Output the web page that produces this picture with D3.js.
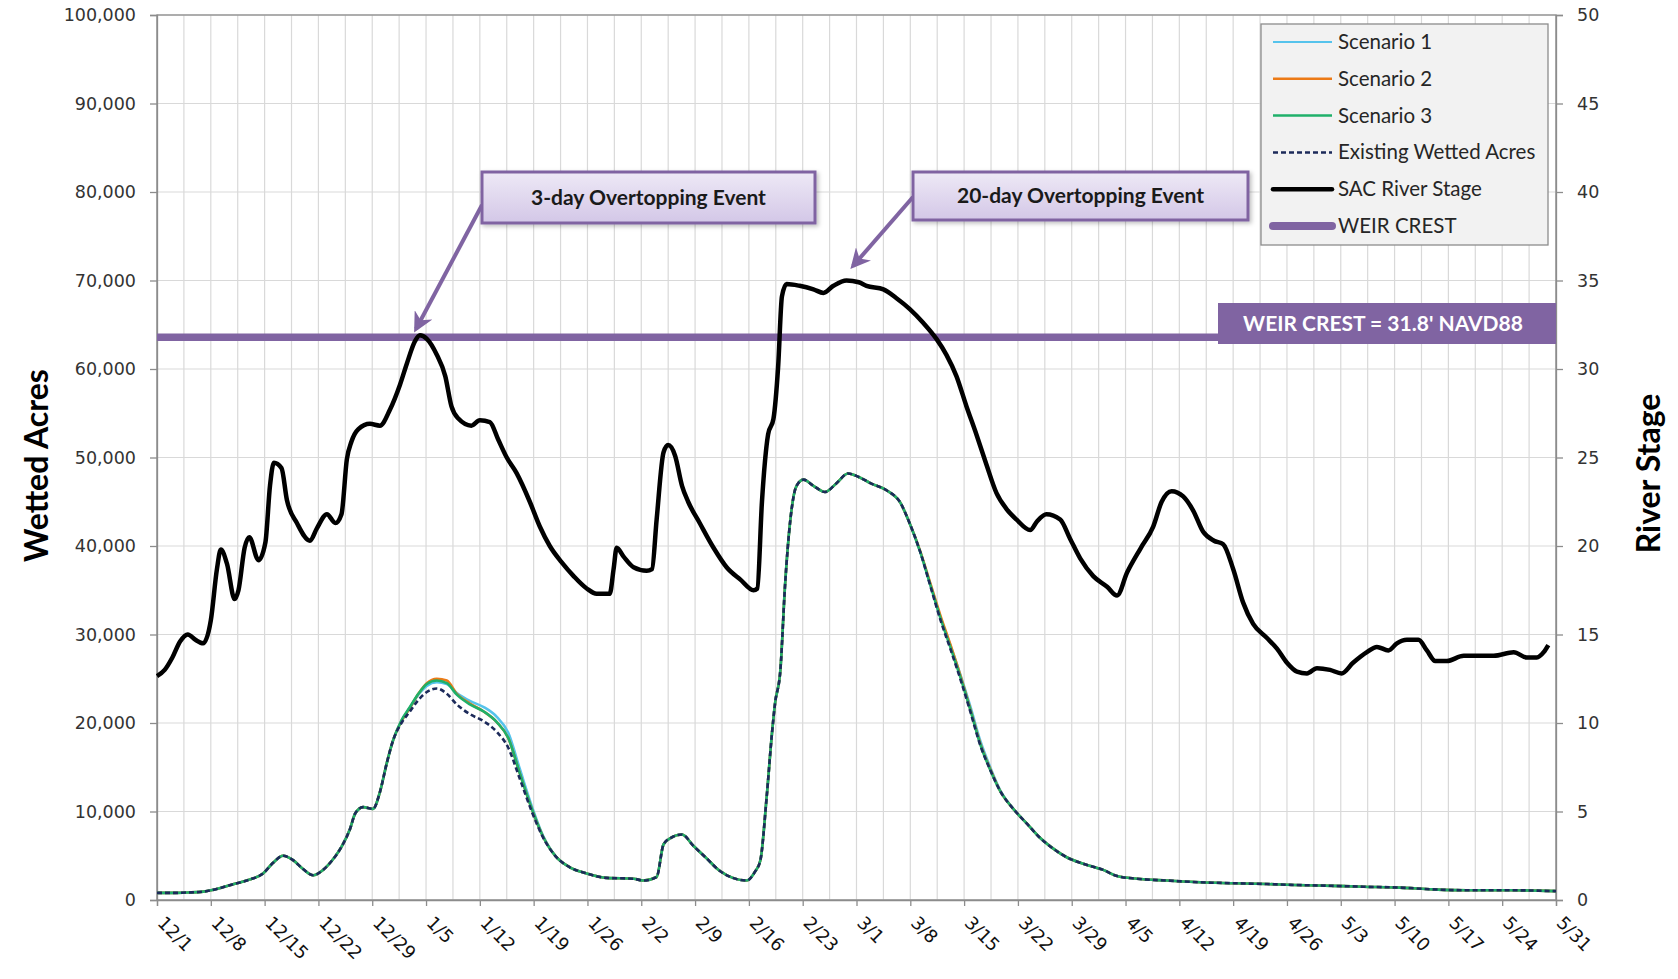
<!DOCTYPE html>
<html>
<head>
<meta charset="utf-8">
<script src="https://cdn.jsdelivr.net/npm/d3@7"></script>
<style>
  body { margin: 0; background: #fff; }
  svg { display: block; }
</style>
</head>
<body>
<div class="canvas"></div>
<script>
// ---- data (days counted from 12/1) ----
const xTickLabels = ["12/1","12/8","12/15","12/22","12/29","1/5","1/12","1/19","1/26","2/2","2/9","2/16","2/23",
  "3/1","3/8","3/15","3/22","3/29","4/5","4/12","4/19","4/26","5/3","5/10","5/17","5/24","5/31"];
const acresTicks = [0,10000,20000,30000,40000,50000,60000,70000,80000,90000,100000];
const stageTicks = [0,5,10,15,20,25,30,35,40,45,50];
const weirCrest = 31.8;

const stageDay = [0,1,2,3,4,5,6,7,7.8,8.3,9.1,10.1,10.6,11.4,12,13.2,14.1,14.7,15.2,16.2,16.9,18.2,19.9,20.8,22.1,23.2,24,
  24.7,25.3,26.2,27.7,29,30.3,31.6,32.5,33.6,34.2,35.1,36.4,37.5,38.3,39.2,40.9,42,43.3,44.4,45.5,46.8,48.5,49.8,
  51.1,52.6,54.2,55.9,57.2,58.9,59.4,59.8,60.7,62,63.7,64.4,65,65.9,66.5,67.4,68.3,69.1,70.6,72.4,74.1,75.9,77.6,
  78.1,78.7,79.5,80.2,80.8,81.3,81.9,83.6,85.4,86.7,88,89.7,91.3,92.3,94.5,96.2,97.9,99.7,101.4,102.7,104,105.3,
  106.6,107.9,109.2,110.5,111.8,113.6,114.5,115.7,117.5,118.8,120.1,121.8,123.6,124.9,126.2,128,129.6,130.7,132,
  133.5,134.8,136.1,137.5,138.7,140,141.3,142.6,144.4,145.7,147,148.3,149.6,150.9,152.6,154.1,155.6,157.4,158.7,
  160.2,161.3,162.6,164.1,165.2,166.3,167.8,170,171.7,173.9,176.5,178.2,179.5,180.4,181];
const stageVal = [12.65,13.0,13.7,14.6,15.0,14.7,14.5,15.8,18.7,19.8,19.0,17.0,17.5,19.9,20.5,19.2,20.2,23.4,24.7,24.4,22.6,21.3,20.3,21.0,21.8,21.3,21.8,
  24.9,25.9,26.6,26.9,26.8,27.7,29.1,30.3,31.6,31.9,31.7,30.8,29.6,27.9,27.2,26.8,27.1,27.0,26.0,25.0,24.1,22.5,21.1,
  20.0,19.1,18.3,17.6,17.3,17.3,18.7,19.9,19.4,18.8,18.6,18.7,21.5,25.3,25.7,25.1,23.4,22.5,21.3,19.9,18.8,18.1,17.5,
  17.6,22.5,26.3,27.2,30.1,34.1,34.8,34.7,34.5,34.3,34.7,35.0,34.9,34.7,34.5,34.0,33.4,32.6,31.7,30.8,29.6,27.9,
  26.3,24.6,23.0,22.1,21.5,20.9,21.4,21.8,21.5,20.4,19.3,18.3,17.7,17.2,18.5,19.9,21.1,22.5,23.1,
  22.8,22.0,20.8,20.3,20.1,18.7,16.8,15.6,14.8,14.2,13.4,12.9,12.8,13.1,13.0,12.8,13.4,14.0,14.3,
  14.1,14.5,14.7,14.7,14.1,13.5,13.5,13.8,13.8,13.8,14.0,13.7,13.7,14.0,14.4];

const wetDay = [0,2,4,6,8,10,12,13.8,15.1,16.4,
  17.7,19,20.3,21.6,22.9,24,25.1,25.8,26.8,28.1,
  29,29.9,30.7,31.8,32.9,34,35.1,36.4,37.7,39,
  40.7,42.5,44.2,45.7,47.2,48.8,50.2,51.9,53.7,55.9,
  58.5,62,63.3,65,65.9,66.8,68.3,69.8,71.5,73.2,
  74.9,76.7,77.8,78.5,79.3,80,80.4,81.1,81.7,82.4,
  83.2,84.1,85.4,86.9,88.4,89.9,91.3,92.8,94.9,96.7,
  97.9,99.3,100.6,101.9,103.2,104.5,105.8,107.1,108.4,109.7,
  111.4,113.2,114.9,116.6,118.4,120.5,123.1,124.9,127.5,131.4,
  135.7,140,144.4,148,153,157,161.7,166,170.4,176,182];
const existingAcres = [800,800,850,950,1300,1800,2300,3000,4200,5000,
  4500,3500,2800,3400,4600,6000,8000,9800,10500,10300,
  12200,15500,18000,20000,21300,22600,23500,23900,23300,22100,
  21000,20200,19000,17200,13700,9900,7100,4900,3700,3000,
  2500,2400,2200,2600,6300,7000,7400,6100,4700,3300,
  2500,2200,3200,4500,11500,18800,22200,26000,35500,43000,
  46800,47500,46800,46100,47100,48200,47800,47100,46300,44900,
  42600,39300,35500,31700,28400,25000,21300,17500,14700,12300,
  10300,8600,7000,5800,4800,4100,3400,2700,2400,2200,
  2000,1900,1800,1700,1600,1500,1400,1200,1100,1100,1000];
const scenario1Acres = [800,800,850,950,1300,1800,2300,3000,4200,5000,
  4500,3500,2800,3400,4600,6000,8000,9800,10500,10300,
  12200,15500,18000,20200,21700,23200,24200,24600,24400,23400,
  22500,21800,20700,18900,14800,10500,7300,4900,3700,3000,
  2500,2400,2200,2600,6300,7000,7400,6100,4700,3300,
  2500,2200,3200,4500,11500,18800,22200,26000,35500,43000,
  46800,47500,46800,46100,47100,48200,47800,47100,46300,44900,
  42600,39300,35700,32000,28800,25500,21900,18000,15000,12400,
  10300,8600,7000,5800,4800,4100,3400,2700,2400,2200,
  2000,1900,1800,1700,1600,1500,1400,1200,1100,1100,1000];
const scenario2Acres = [800,800,850,950,1300,1800,2300,3000,4200,5000,
  4500,3500,2800,3400,4600,6000,8000,9800,10500,10300,
  12200,15500,18000,20200,21700,23300,24500,25000,24800,23300,
  22200,21300,20100,18300,14300,10200,7200,4900,3700,3000,
  2500,2400,2200,2600,6300,7000,7400,6100,4700,3300,
  2500,2200,3200,4500,11500,18800,22200,26000,35500,43000,
  46800,47500,46800,46100,47100,48200,47800,47100,46300,44900,
  42600,39400,35800,32200,28900,25400,21600,17700,14800,12300,
  10300,8600,7000,5800,4800,4100,3400,2700,2400,2200,
  2000,1900,1800,1700,1600,1500,1400,1200,1100,1100,1000];
const scenario3Acres = [800,800,850,950,1300,1800,2300,3000,4200,5000,
  4500,3500,2800,3400,4600,6000,8000,9800,10500,10300,
  12200,15500,18000,20300,21800,23300,24400,24800,24500,23200,
  22100,21300,20100,18300,14300,10200,7200,4900,3700,3000,
  2500,2400,2200,2600,6300,7000,7400,6100,4700,3300,
  2500,2200,3200,4500,11500,18800,22200,26000,35500,43000,
  46800,47500,46800,46100,47100,48200,47800,47100,46300,44900,
  42600,39300,35600,31900,28600,25200,21500,17600,14700,12300,
  10300,8600,7000,5800,4800,4100,3400,2700,2400,2200,
  2000,1900,1800,1700,1600,1500,1400,1200,1100,1100,1000];

// ---- layout ----
const W = 1678, H = 979;
const plot = {left: 157, right: 1556, top: 15, bottom: 900};
const purple = "#8064a2";

const svg = d3.select(".canvas").append("svg")
    .attr("width", W)
    .attr("height", H);

const defs = svg.append("defs");
const grad = defs.append("linearGradient").attr("id", "calloutFill")
    .attr("x1", 0).attr("y1", 0).attr("x2", 0).attr("y2", 1);
grad.append("stop").attr("offset", "0%").attr("stop-color", "#eee9f6");
grad.append("stop").attr("offset", "100%").attr("stop-color", "#d3c7e7");

defs.append("marker").attr("id", "arrowHead")
    .attr("viewBox", "0 0 10 10").attr("refX", 8).attr("refY", 5)
    .attr("markerWidth", 5).attr("markerHeight", 5)
    .attr("markerUnits", "strokeWidth")
    .attr("orient", "auto")
  .append("path").attr("d", "M0,0 L10,5 L0,10 L3,5 Z").attr("fill", purple);

const shadow = defs.append("filter").attr("id", "shadow")
    .attr("x", "-10%").attr("y", "-20%").attr("width", "130%").attr("height", "160%");
shadow.append("feDropShadow").attr("dx", 2).attr("dy", 2).attr("stdDeviation", 2)
    .attr("flood-color", "#000").attr("flood-opacity", 0.25);

// scales
const x = d3.scaleLinear().domain([0, 182]).range([plot.left, plot.right]);
const yA = d3.scaleLinear().domain([0, 100000]).range([plot.bottom, plot.top]);
const yS = d3.scaleLinear().domain([0, 50]).range([plot.bottom, plot.top]);

// gridlines
const grid = svg.append("g");
grid.selectAll(".vg").data(d3.range(0, 182.01, 3.5)).enter().append("line")
    .attr("x1", d => x(d)).attr("x2", d => x(d))
    .attr("y1", plot.top).attr("y2", plot.bottom)
    .attr("stroke", "#d9d9d9").attr("stroke-width", 1.2);
grid.selectAll(".hg").data(acresTicks).enter().append("line")
    .attr("x1", plot.left).attr("x2", plot.right)
    .attr("y1", d => yA(d)).attr("y2", d => yA(d))
    .attr("stroke", "#d9d9d9").attr("stroke-width", 1.2);

// plot frame
svg.append("rect")
    .attr("x", plot.left).attr("y", plot.top)
    .attr("width", plot.right - plot.left).attr("height", plot.bottom - plot.top)
    .attr("fill", "none").attr("stroke", "#8c8c8c").attr("stroke-width", 1.3);

// axes
const fmt = d3.format(",");
const leftAxis = svg.append("g")
    .attr("transform", `translate(${plot.left},0)`)
    .call(d3.axisLeft(yA).tickValues(acresTicks).tickFormat(fmt).tickSize(7).tickPadding(14));
const rightAxis = svg.append("g")
    .attr("transform", `translate(${plot.right},0)`)
    .call(d3.axisRight(yS).tickValues(stageTicks).tickSize(7).tickPadding(14));
const bottomAxis = svg.append("g")
    .attr("transform", `translate(0,${plot.bottom})`)
    .call(d3.axisBottom(x).tickValues(d3.range(0, 183, 7)).tickFormat((d, i) => xTickLabels[i]).tickSize(6));

[leftAxis, rightAxis, bottomAxis].forEach(a => {
    a.select(".domain").attr("stroke", "#8c8c8c").attr("stroke-width", 1.3);
    a.selectAll(".tick line").attr("stroke", "#8c8c8c").attr("stroke-width", 1.3);
    a.selectAll("text")
        .attr("font-family", "'DejaVu Sans', Verdana, sans-serif")
        .attr("font-size", 17.5)
        .attr("fill", "#333");
});

// rotated date labels
bottomAxis.selectAll(".tick text")
    .attr("text-anchor", "start")
    .attr("dy", null)
    .attr("y", null)
    .attr("font-size", 18)
    .attr("transform", "translate(-1,24) rotate(45)")
    .attr("fill", "#111");

// axis titles
svg.append("text")
    .attr("transform", `translate(48,${(plot.top + plot.bottom) / 2 + 8}) rotate(-90)`)
    .attr("text-anchor", "middle")
    .attr("font-family", "Lato, sans-serif").attr("font-weight", 700).attr("font-size", 32)
    .attr("fill", "#000")
    .text("Wetted Acres");
svg.append("text")
    .attr("transform", `translate(1660,${(plot.top + plot.bottom) / 2 + 16}) rotate(-90)`)
    .attr("text-anchor", "middle")
    .attr("font-family", "Lato, sans-serif").attr("font-weight", 700).attr("font-size", 32)
    .attr("fill", "#000")
    .text("River Stage");

// weir crest line + label
svg.append("line")
    .attr("x1", plot.left).attr("x2", 1220)
    .attr("y1", yS(weirCrest)).attr("y2", yS(weirCrest))
    .attr("stroke", purple).attr("stroke-width", 7.5);
svg.append("rect")
    .attr("x", 1218).attr("y", 303).attr("width", plot.right - 1218).attr("height", 41)
    .attr("fill", purple);
svg.append("text")
    .attr("x", 1383).attr("y", 331)
    .attr("text-anchor", "middle")
    .attr("font-family", "Lato, sans-serif").attr("font-weight", 700).attr("font-size", 21)
    .attr("fill", "#fff")
    .text("WEIR CREST = 31.8' NAVD88");

// lines
const acresLine = vals => d3.line()
    .x((d, i) => x(wetDay[i]))
    .y(d => yA(d))
    .curve(d3.curveMonotoneX)(vals);

const series = [
    {name: "Scenario 1", vals: scenario1Acres, color: "#55c3ec", dash: null},
    {name: "Scenario 2", vals: scenario2Acres, color: "#ec7a16", dash: null},
    {name: "Scenario 3", vals: scenario3Acres, color: "#1fb06a", dash: null},
    {name: "Existing Wetted Acres", vals: existingAcres, color: "#1c2a5a", dash: "5,3"}
];

const lines = svg.append("g");
series.forEach(s => {
    lines.append("path")
        .attr("d", acresLine(s.vals))
        .attr("fill", "none")
        .attr("stroke", s.color)
        .attr("stroke-width", 2.6)
        .attr("stroke-dasharray", s.dash);
});

const stageLine = d3.line()
    .x((d, i) => x(stageDay[i]))
    .y(d => yS(d))
    .curve(d3.curveMonotoneX);
lines.append("path")
    .attr("d", stageLine(stageVal))
    .attr("fill", "none")
    .attr("stroke", "#000")
    .attr("stroke-width", 4.5)
    .attr("stroke-linejoin", "round");

// callouts
const callouts = [
    {text: "3-day Overtopping Event", x: 482, y: 172, w: 333, h: 51, from: [482, 205], to: [416, 329]},
    {text: "20-day Overtopping Event", x: 913, y: 172, w: 335, h: 48, from: [913, 197], to: [853, 266]}
];
callouts.forEach(c => {
    svg.append("line")
        .attr("x1", c.from[0]).attr("y1", c.from[1])
        .attr("x2", c.to[0]).attr("y2", c.to[1])
        .attr("stroke", purple).attr("stroke-width", 4)
        .attr("marker-end", "url(#arrowHead)");
    svg.append("rect")
        .attr("x", c.x).attr("y", c.y).attr("width", c.w).attr("height", c.h)
        .attr("fill", "url(#calloutFill)")
        .attr("stroke", purple).attr("stroke-width", 3)
        .attr("filter", "url(#shadow)");
    svg.append("text")
        .attr("x", c.x + c.w / 2).attr("y", c.y + c.h / 2 + 7)
        .attr("text-anchor", "middle")
        .attr("font-family", "Lato, sans-serif").attr("font-weight", 700).attr("font-size", 21)
        .attr("fill", "#1a1a1a")
        .text(c.text);
});

// legend
const legendItems = [
    {name: "Scenario 1", color: "#55c3ec", width: 2, dash: null},
    {name: "Scenario 2", color: "#ec7a16", width: 2.5, dash: null},
    {name: "Scenario 3", color: "#1fb06a", width: 2.5, dash: null},
    {name: "Existing Wetted Acres", color: "#1c2a5a", width: 2.5, dash: "5,3"},
    {name: "SAC River Stage", color: "#000", width: 4.5, dash: null},
    {name: "WEIR CREST", color: purple, width: 8, dash: null}
];
const legend = svg.append("g").attr("transform", "translate(1261,24)");
legend.append("rect")
    .attr("width", 287).attr("height", 221)
    .attr("fill", "#f2f2f2").attr("stroke", "#8c8c8c").attr("stroke-width", 1.3);
const li = legend.selectAll(".li").data(legendItems).enter().append("g")
    .attr("transform", (d, i) => `translate(0,${18 + i * 36.8})`);
li.append("line")
    .attr("x1", 12).attr("x2", 71)
    .attr("stroke", d => d.color)
    .attr("stroke-width", d => d.width)
    .attr("stroke-dasharray", d => d.dash)
    .attr("stroke-linecap", (d, i) => i >= 4 ? "round" : "butt");
li.append("text")
    .attr("x", 77).attr("y", 7)
    .attr("font-family", "Lato, sans-serif").attr("font-size", 20.5)
    .attr("fill", "#262626")
    .text(d => d.name);
</script>
</body>
</html>
